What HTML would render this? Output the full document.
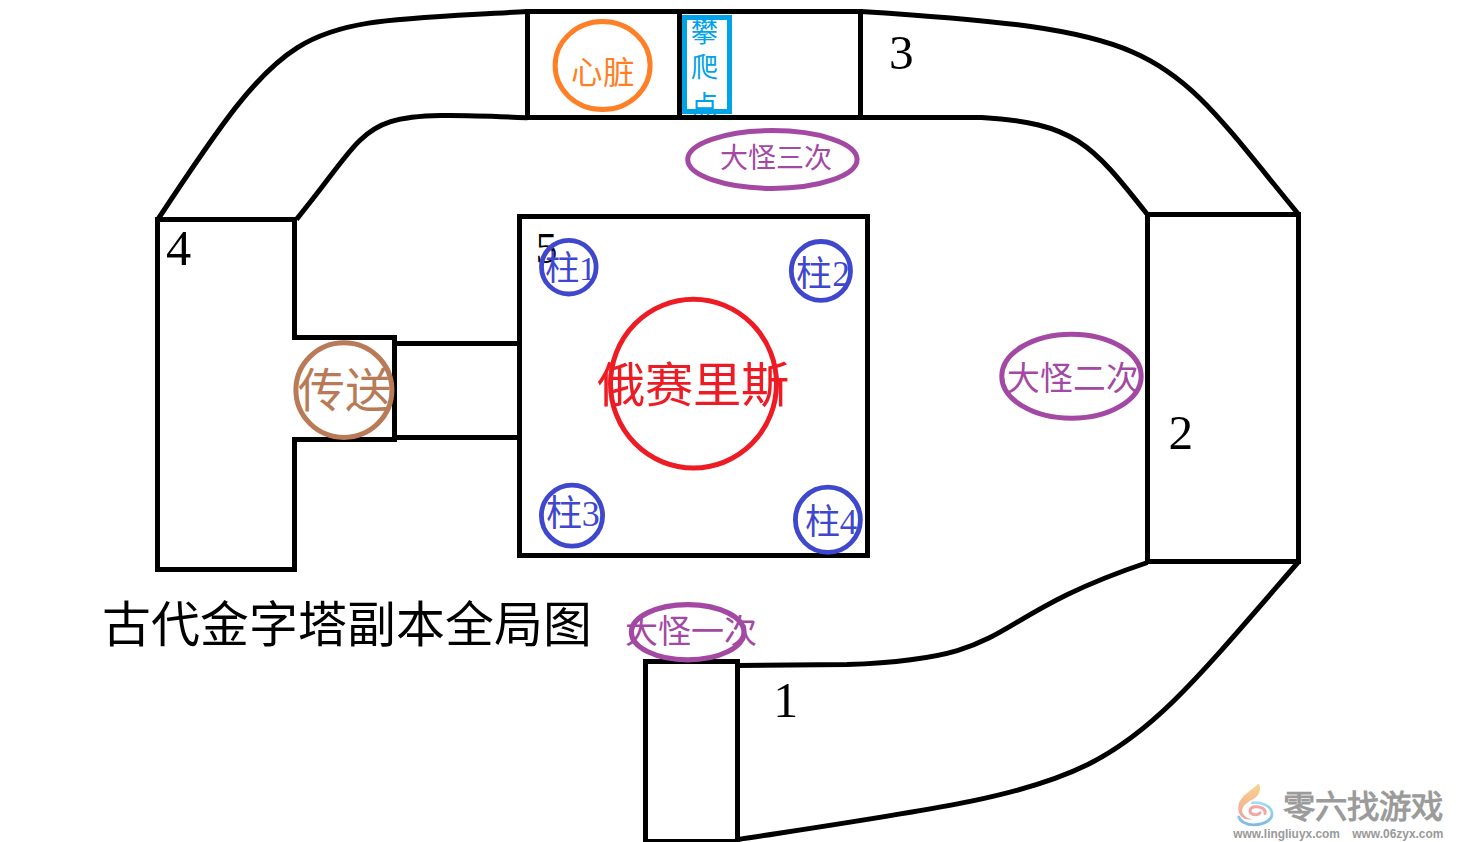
<!DOCTYPE html>
<html lang="zh-CN"><head><meta charset="utf-8">
<title>古代金字塔副本全局图</title>
<style>
html,body{margin:0;padding:0;background:#fff;}
body{width:1460px;height:842px;overflow:hidden;}
svg{display:block;}
text{font-family:"Liberation Serif",serif;}
</style></head><body>
<svg width="1460" height="842" viewBox="0 0 1460 842">
<defs>
<linearGradient id="flame" x1="0" y1="0" x2="0" y2="1">
<stop offset="0" stop-color="#f9d68e"/><stop offset="0.55" stop-color="#f5b990"/><stop offset="1" stop-color="#f0a0a2"/>
</linearGradient>
<linearGradient id="swirl" x1="0" y1="0" x2="0" y2="1">
<stop offset="0" stop-color="#a3dcf3"/><stop offset="1" stop-color="#7fb9e2"/>
</linearGradient>
</defs>
<rect width="1460" height="842" fill="#fff"/>
<g fill="none" stroke="#000" stroke-width="5">
<path d="M157.8 219.5 C297.3 8.1 295.8 25.5 527.5 11.4"/><path d="M296.5 219.3 C380.9 116.6 351.5 110.1 527.5 117.8"/><path d="M860.5 11.4 C1173.8 31.2 1162.2 49.1 1298.3 214.0"/><path d="M860.5 117.5 L981.6 117.5 C1073.9 123.2 1090.8 142.7 1147.2 214.3"/><path d="M737.5 665.5 L847.0 664.6 C1024.1 657.9 975.9 620.0 1147.5 562.5"/><path d="M737.5 839.6 C1121.7 780.5 1099.1 791.7 1298.3 562.0"/>
</g>
<g fill="none" stroke="#000" stroke-width="5" shape-rendering="crispEdges">
<!-- heart strip -->
<path d="M525 11.5 H863 M525 117.5 H863" />
<path d="M527.5 9 V120 M679.5 9 V120 M860.5 9 V120"/>
<!-- box 4 with notch -->
<path d="M157.5 219.5 H294.5 V337.5 H394.5 V439.5 H294.5 V569.5 H157.5 Z"/>
<!-- corridor -->
<path d="M397 343.5 H519 M397 437.5 H519"/>
<!-- box 5 -->
<rect x="519.5" y="216.5" width="348" height="339"/>
<!-- box 2 -->
<rect x="1147.5" y="214.5" width="151" height="347"/>
<!-- box 1 -->
<rect x="645.5" y="661.5" width="92" height="180"/>
</g>
<!-- climbing point -->
<text x="690.5" y="41.9" font-size="26.77" fill="#00a2e8">攀</text>
<text x="690.8" y="77.1" font-size="27.07" fill="#00a2e8">爬</text>
<text x="690.8" y="114.8" font-size="27" fill="#00a2e8">点</text>

<rect x="684.5" y="17.5" width="45" height="94" fill="none" stroke="#00a2e8" stroke-width="5" shape-rendering="crispEdges"/>
<path d="M677 117.5 H735" stroke="#000" stroke-width="5" shape-rendering="crispEdges"/>
<!-- heart circle -->
<ellipse cx="602.6" cy="65.6" rx="47.5" ry="44" fill="none" stroke="#ff7f27" stroke-width="5"/>
<!-- purple ellipses -->
<ellipse cx="772.4" cy="159.5" rx="84.7" ry="28.9" fill="none" stroke="#a349a4" stroke-width="5"/>
<ellipse cx="1071.5" cy="376.2" rx="69.7" ry="42" fill="none" stroke="#a349a4" stroke-width="5"/>
<!-- teleport -->
<ellipse cx="343.9" cy="390.1" rx="48" ry="47.3" fill="none" stroke="#b97a57" stroke-width="5"/>
<!-- red -->
<ellipse cx="693.5" cy="383.65" rx="83" ry="84.35" fill="none" stroke="#ed1c24" stroke-width="5"/>
<text x="535.4" y="262.5" font-size="43.79" fill="#000">5</text>

<!-- pillars -->
<g fill="none" stroke="#3f48cc" stroke-width="4.8">
<ellipse cx="568.8" cy="267.2" rx="27.3" ry="26.8"/>
<ellipse cx="820.9" cy="270.9" rx="29.6" ry="29.4"/>
<ellipse cx="572" cy="515.7" rx="30.6" ry="30.5"/>
<ellipse cx="827.9" cy="519.8" rx="32.5" ry="32.6"/>
</g>
<text x="889.1" y="69.3" font-size="49.25" fill="#000">3</text>
<text x="166.1" y="264.6" font-size="50.45" fill="#000">4</text>
<text x="1168.4" y="449.3" font-size="49.25" fill="#000">2</text>
<text x="773.3" y="716.8" font-size="49.85" fill="#000">1</text>
<text x="102.2" y="642.2" font-size="48.86" fill="#000">古代金字塔副本全局图</text>
<text x="571.1" y="83.7" font-size="31.52" fill="#ff7f27">心脏</text>
<text x="720.0" y="168.0" font-size="28.03" fill="#a349a4">大怪三次</text>
<text x="1007.2" y="390.3" font-size="32.76" fill="#a349a4">大怪二次</text>
<text x="297.8" y="406.8" font-size="47.01" fill="#b97a57">传送</text>
<text x="596.8" y="402.0" font-size="48.29" fill="#ed1c24">俄赛里斯</text>
<text x="545.0" y="280.4" font-size="34.34" fill="#3f48cc">柱1</text>
<text x="796.2" y="286.4" font-size="35.56" fill="#3f48cc">柱2</text>
<text x="545.8" y="526.2" font-size="36.07" fill="#3f48cc">柱3</text>
<text x="804.8" y="533.8" font-size="35.00" fill="#3f48cc">柱4</text>

<ellipse cx="687.7" cy="632.2" rx="56.3" ry="27.6" fill="none" stroke="#a349a4" stroke-width="5.2"/>
<text x="624.8" y="642.7" font-size="32.99" fill="#a349a4">大怪一次</text>

<!-- watermark -->
<g>
<path d="M1258.6 783.4 C1252 790 1239.5 796 1238.3 806 C1237.3 815 1243 820.5 1252.5 819.5 C1246 818 1241.5 814 1242 810 C1243 804 1250 801 1255 798 C1260 794 1261.5 788 1258.6 783.4 Z" fill="url(#flame)"/>
<path d="M1252.3 802.8 C1262 802 1271.5 806 1272 813 C1272.5 820 1264 824.8 1254 824.8 C1246 824.8 1240 821 1238.8 817" fill="none" stroke="url(#swirl)" stroke-width="2.8" stroke-linecap="round"/>
<path d="M1265 813.5 C1266.5 809 1260 806 1254.5 806.8 C1249.5 807.5 1248.5 812.5 1252.5 814.2 C1255.5 815.4 1259 814.6 1260 812.8" fill="none" stroke="#f2a6a6" stroke-width="3" stroke-linecap="round"/>
<text x="1283.0" y="817.7" font-size="32.32" fill="#9b9b9b" style="font-family:'Liberation Sans', sans-serif" font-weight="bold">零六找游戏</text>
<text x="1233.2" y="837.5" font-size="11.91" fill="#999999" style="font-family:'Liberation Sans', sans-serif" font-weight="bold">www.lingliuyx.com</text>
<text x="1352.3" y="837.8" font-size="11.94" fill="#999999" style="font-family:'Liberation Sans', sans-serif" font-weight="bold">www.06zyx.com</text>
</g>
</svg>
</body></html>
